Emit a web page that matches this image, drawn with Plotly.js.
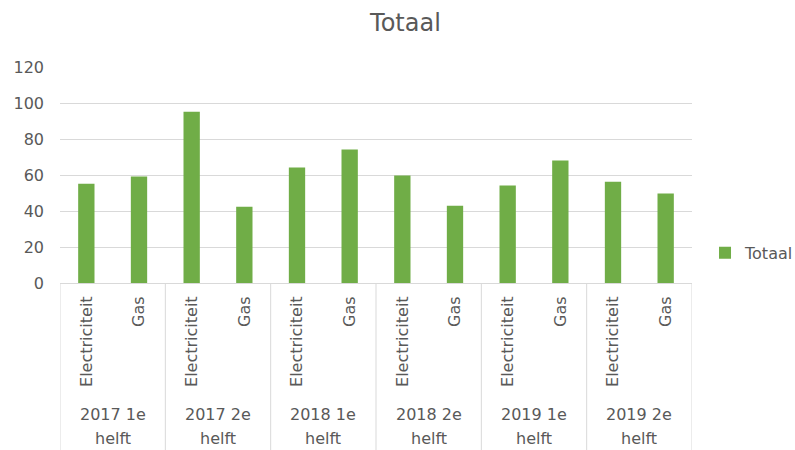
<!DOCTYPE html>
<html><head><meta charset="utf-8">
<script src="https://cdn.plot.ly/plotly-3.0.1.min.js"></script>
<style>body{margin:0;background:#fff}#chart{width:795px;height:450px}</style>
</head><body><div id="chart"></div>
<script>
const periods = ["2017 1e","2017 2e","2018 1e","2018 2e","2019 1e","2019 2e"];
const periodSuffix = "helft";
const types = ["Electriciteit","Gas","Electriciteit","Gas","Electriciteit","Gas","Electriciteit","Gas","Electriciteit","Gas","Electriciteit","Gas"];
const totaal = [55.2, 59.1, 95.1, 42.4, 64.1, 74.1, 59.7, 42.9, 54.1, 68.0, 56.3, 49.7];
const yTicks = [0,20,40,60,80,100,120];

const font = "DejaVu Sans, sans-serif";
const grey = "#595959";
const lineGrey = "#d9d9d9";
const idx = types.map((_, i) => i);
const perGroup = types.length / periods.length;

const trace = {
  type: "bar", name: "Totaal",
  x: idx, y: totaal,
  marker: {color: "#70AD47"},
  width: 0.31
};

const annotations = [];
const shapes = [];
periods.forEach((p, g) => {
  const xc = g * perGroup + (perGroup - 1) / 2;
  annotations.push({x: xc, xref: "x", y: -0.608, yref: "paper", yanchor: "middle",
    text: p, showarrow: false, font: {family: font, size: 16, color: grey}});
  annotations.push({x: xc, xref: "x", y: -0.719, yref: "paper", yanchor: "middle",
    text: periodSuffix, showarrow: false, font: {family: font, size: 16, color: grey}});
});
for (let g = 0; g <= periods.length; g++) {
  const xb = g * perGroup - 0.5;
  shapes.push({type: "line", xref: "x", yref: "paper", x0: xb, x1: xb, y0: 0, y1: -0.78,
    line: {color: lineGrey, width: 1}});
}

const layout = {
  width: 795, height: 450,
  paper_bgcolor: "#fff", plot_bgcolor: "#fff",
  margin: {l: 60, r: 103, t: 67, b: 167, autoexpand: false},
  title: {text: "Totaal", x: 0.51, xref: "container", y: 0.95, yanchor: "middle",
          font: {family: font, size: 24, color: grey}},
  font: {family: font, color: grey, size: 16},
  xaxis: {
    range: [-0.5, types.length - 0.5],
    tickvals: idx, ticktext: types,
    tickangle: -90,
    showline: true, linecolor: lineGrey, linewidth: 1,
    tickfont: {family: font, size: 16, color: grey},
    showgrid: false, zeroline: false, ticks: "", ticklabelstandoff: 6
  },
  yaxis: {
    range: [0, 120], tickvals: yTicks, ticktext: yTicks.map(String),
    showgrid: true, gridcolor: lineGrey, gridwidth: 1,
    zeroline: false, showline: false,
    ticks: "", ticklabelstandoff: 15,
    tickfont: {family: font, size: 16, color: grey}
  },
  annotations: annotations,
  shapes: shapes,
  showlegend: true,
  legend: {x: 1.0206, xanchor: "left", y: 0.14, yanchor: "middle",
           font: {family: font, size: 16, color: grey}, bgcolor: "rgba(0,0,0,0)"}
};
Plotly.newPlot("chart", [trace], layout, {displayModeBar: false, staticPlot: true});
</script>
</body></html>
